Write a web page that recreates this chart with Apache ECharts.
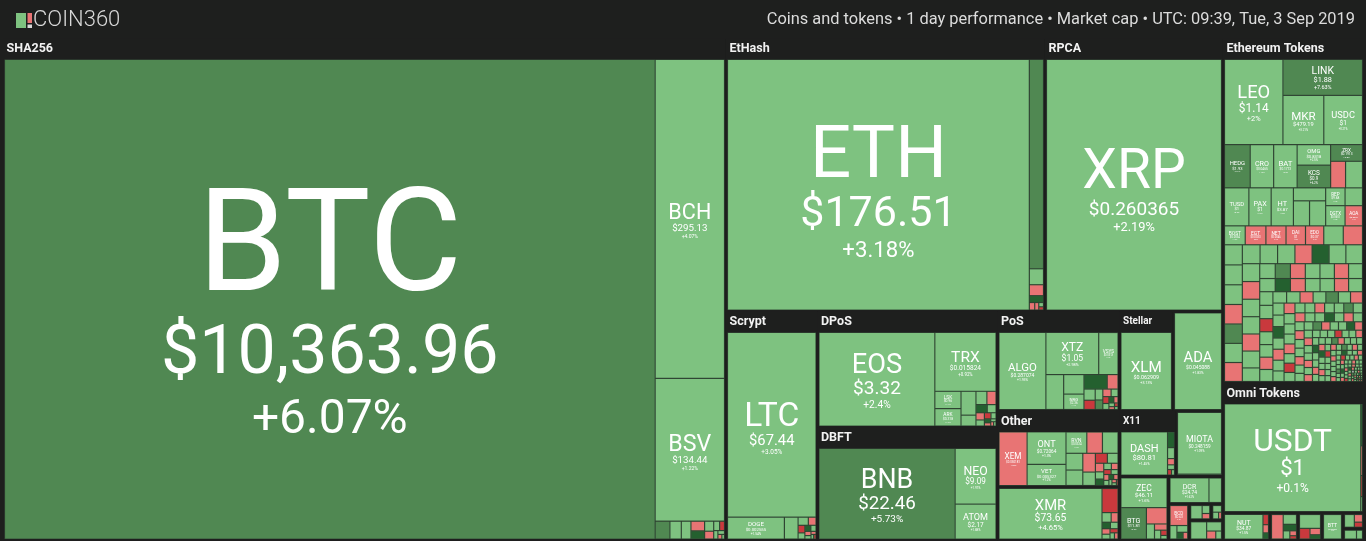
<!DOCTYPE html>
<html>
<head>
<meta charset="utf-8">
<title>COIN360 – 1 day performance</title>
<script src="https://cdn.jsdelivr.net/npm/echarts@6.0.0/dist/echarts.min.js"></script>
<style>
  html, body { margin: 0; padding: 0; background: #1e1f1e; overflow: hidden; }
  #chart { width: 1366px; height: 541px; }
</style>
</head>
<body>
<div id="chart"></div>
<script>
// ======================= DATA =======================
const headerTitle = 'COIN360';
const headerInfo = 'Coins and tokens \u2022 1 day performance \u2022 Market cap \u2022 UTC: 09:39, Tue, 3 Sep 2019';

// top-level groups and their relative (displayed) size
const groupNames = ['SHA256', 'EtHash', 'RPCA', 'Ethereum Tokens', 'Omni Tokens', 'Scrypt', 'DPoS', 'DBFT',
  'PoS', 'Other', 'CryptoNight', 'Stellar', 'Ouroboros', 'X11', 'Tangle', 'Equihash', 'Blake256', 'X13',
  'Lbry', 'Groestl', 'Qubit', 'NEP5 Tokens', 'Waves Tokens', 'TRC20 Tokens', 'TRC10 Tokens', 'Tron Misc', 'Misc Tokens'];
const groupWeights = [362946, 87087, 48594, 48575, 18330, 20954, 20880, 20340,
  12139, 9272, 6527, 5323, 4975, 3701, 3079, 3136, 1499, 756,
  360, 192, 681, 1292.5, 770, 660, 577.5, 330, 247.5];

// how the groups are arranged (nested lists = unlabelled blocks)
const groupArrangement = [
  'SHA256',
  [
    [
      ['EtHash', 'RPCA'],
      ['Scrypt', [
        [['DPoS', 'DBFT'], ['PoS', 'Other', 'CryptoNight']],
        [['Stellar', 'Ouroboros'], ['X11', 'Tangle'], ['Equihash', ['Blake256', 'X13', 'Lbry', 'Groestl', 'Qubit']]]
      ]]
    ],
    ['Ethereum Tokens', 'Omni Tokens', ['NEP5 Tokens', 'Waves Tokens', 'TRC20 Tokens', 'TRC10 Tokens', 'Tron Misc', 'Misc Tokens']]
  ]
];

// tone codes for the tiny unlabelled cells: g/G/D greens, r/R/K reds, x grey
const toneChange = { g: 2, G: 7, D: 12, r: -2, R: -7, K: -12, x: 0 };

// ---- SHA256
const sha256Names = ['BTC', 'BCH', 'BSV'];
const sha256Weights = [308600, 21870, 9800];
const sha256Prices = [10363.96, 295.13, 134.44];
const sha256Changes = [6.07, 4.07, 1.22];
const sha256TinyWeights = [260, 200, 170, 130, 110, 90, 70, 55, 45, 35, 25, 18, 12];
const sha256TinyTones = 'GggrDgrgRggrg';
// ---- EtHash
const etHashNames = ['ETH', 'ETC'];
const etHashWeights = [74949, 2940];
const etHashPrices = [176.51, 7.08];
const etHashChanges = [3.18, 7.12];
const etHashTinyWeights = [224, 154, 96, 40, 30, 20, 15];
const etHashTinyTones = 'grDrrgR';
// ---- RPCA
const rpcaNames = ['XRP'];
const rpcaWeights = [44073];
const rpcaPrices = [0.260365];
const rpcaChanges = [2.19];
// ---- Ethereum Tokens
const ethTokNames = ['LEO', 'LINK', 'MKR', 'USDC', 'HEDG', 'CRO', 'BAT', 'TUSD', 'PAX', 'HT', 'KCS', 'OMG', 'ZRX', 'HOT',
  'ENJ', 'SNT', 'MANA', 'LAMB', 'DGTX', 'BOST', 'EGT', 'NET', 'DAI', 'AOA', 'REP', 'EDO', 'NEXO'];
const ethTokWeights = [4320, 2475, 1748, 1656, 966, 882, 882, 805, 735, 735, 660, 600, 462, 391,
  364, 350, 350, 345, 340, 340, 340, 330, 320, 306, 300, 300, 270];
const ethTokPrices = [1.14, 1.88, 479.19, 1, 1.93, 0.0465, 0.1773, 1, 1, 3.87, 0.9, 0.8318, 0.1913, 0.000434,
  0.0782, 0.0178, 0.0388, 0.0532, 0.0651, 0.0034, 0.0033, 0.0046, 1, 0.0067, 9.68, 0.37, 0.085];
const ethTokChanges = [2, 7.63, 3.21, 0.21, 6.41, 1.2, 2.3, 0.3, 0.19, 1.78, 6.2, 2.5, 6.8, 1.5,
  2.1, 1.9, 2.4, -3.5, 1.5, 1.3, -2.8, -3.1, -1.9, -4.1, 1.2, -2.4, 1.1];
const ethTokTinyWeights = [
  320, 316, 312, 308, 305, 302, 300, 297, 294, 291, 288, 285, 282, 279, 276, 273, 270, 267, 264, 261, 258, 255,
  205, 200, 196, 192, 189, 186, 183, 180, 177, 174, 171, 168, 165, 162, 159, 156, 153, 150, 147, 144, 141, 138, 135, 132, 129, 126, 123, 120, 118, 116,
  112, 110, 108, 106, 104, 102, 100, 98, 96, 94, 92, 90, 88, 86, 85, 84, 83, 82, 81, 80, 79, 78, 77, 76, 75, 74, 73, 72, 71, 70, 69, 68, 67, 66, 65, 64, 63, 62, 61, 60,
  58, 57, 56, 55, 54, 53, 52, 51, 50, 49, 48, 47, 46, 45, 44, 43, 42, 41, 40, 40, 39, 39, 38, 38, 37, 37, 36, 36, 35, 35, 34, 34, 33, 33, 32, 32, 31, 31, 30, 30,
  29, 29, 28, 28, 27, 27, 26, 26, 25, 25, 24, 24, 23, 23, 22, 22, 21, 21, 20, 20,
  19, 19, 18, 18, 17, 17, 16, 16, 15, 15, 15, 14, 14, 14, 13, 13, 13, 12, 12, 12, 11, 11, 11, 10, 10, 10, 10, 9, 9, 9,
  9, 8, 8, 8, 8, 7, 7, 7, 7, 6, 6, 6, 6, 6, 5, 5, 5, 5, 5, 4, 4, 4, 4, 4, 4, 3, 3, 3, 3, 3];
const ethTokTinyTones =
  'grgggrGgrg' + 'ggrDgggrgg' + 'rgggGrggrg' + 'gDrggrgggR' + 'ggrgggrgGg' + 'rggDgrggrg' + 'ggrgRgggrg' +
  'gGgrggDgrg' + 'grggrgggGr' + 'ggDrgrggrg' + 'rgggRggrgD' + 'ggrgggGrgg' + 'grDggrggRg' + 'gggrgGgrgg' +
  'rgggrgDggr' + 'gRggrgggGg' + 'grgDgrggrg' + 'ggrggRgrgg' + 'Dgrggrgggx' + 'grgGgrgrgg' + 'gDggrgKggr' + 'grg';
// how the first rows of Ethereum Tokens are grouped ('…' = everything else)
const ethTokArrangement = [
  ['LEO', ['LINK', ['MKR', 'USDC']]],
  [['HEDG', 'CRO', 'BAT', ['OMG', 'KCS'], ['ZRX', ['LAMB', 'HOT']]],
   [['TUSD', 'PAX', 'HT', ['ENJ', ['SNT', 'MANA']], ['REP', 'NEXO'], ['DGTX', 'AOA']], '…']]
];
// ---- Omni Tokens
const omniNames = ['USDT'];
const omniWeights = [13952];
const omniPrices = [1];
const omniChanges = [0.1];
const omniTinyWeights = [70, 50, 35, 25];
const omniTinyTones = 'DrRg';
// ---- Scrypt
const scryptNames = ['LTC', 'DOGE', 'MONA'];
const scryptWeights = [15752, 1196, 288];
const scryptPrices = [67.44, 0.002555, 1.27];
const scryptChanges = [3.05, 1.54, 3.1];
const scryptTinyWeights = [80, 60, 50, 40, 35, 30, 25, 20, 15, 12, 10];
const scryptTinyTones = 'grRgDgrgrgR';
// ---- DPoS
const dposNames = ['EOS', 'TRX', 'LSK', 'ARK'];
const dposWeights = [10672, 3540, 448, 448];
const dposPrices = [3.32, 0.015824, 0.96, 0.318];
const dposChanges = [2.4, 0.92, 1.1, 1.4];
const dposTinyWeights = [352, 160, 144, 120, 90, 70, 60, 50, 40, 30, 25, 20, 15, 12, 10];
const dposTinyTones = 'gggrDgrgRgDrgrg';
// ---- DBFT
const dbftNames = ['BNB', 'NEO', 'ATOM'];
const dbftWeights = [12015, 2214, 1394];
const dbftPrices = [22.46, 9.09, 2.17];
const dbftChanges = [5.73, 1.97, 1.88];
// ---- PoS
const posNames = ['ALGO', 'XTZ', 'VSYS', 'QTUM', 'WAVES', 'NRG'];
const posWeights = [3465, 2132, 779, 595, 380, 300];
const posPrices = [0.287074, 1.05, 0.0313, 2.71, 1.12, 2.36];
const posChanges = [1.95, 2.98, 1.2, 1.6, 1.3, 1.1];
const posTinyWeights = [323, 150, 120, 100, 80, 70, 60, 50, 40, 35, 30, 25, 20, 15, 12, 10];
const posTinyTones = 'DrgRgGrgRgDrgrRg';
// ---- Other
const otherNames = ['XEM', 'ONT', 'VET', 'RVN'];
const otherWeights = [1248, 1044, 684, 368];
const otherPrices = [0.050181, 0.72064, 0.005327, 0.0334];
const otherChanges = [-1.35, 1.3, 1.2, 1.9];
const otherTinyWeights = [276, 275, 234, 216, 196, 140, 99, 88, 60, 50, 45, 40, 35, 30, 28, 25, 22, 20, 18, 15, 12, 10, 8];
const otherTinyTones = 'rgggrgRgrgDgrRgrgDrgrgR';
// ---- CryptoNight
const cryptoNightNames = ['XMR', 'BCN'];
const cryptoNightWeights = [4747, 352];
const cryptoNightPrices = [73.65, 0.000437];
const cryptoNightChanges = [4.65, -7.5];
const cryptoNightTinyWeights = [80, 60, 50, 45, 40, 35, 30, 25, 20];
const cryptoNightTinyTones = 'grDgrgRgr';
// ---- Stellar / Ouroboros / X11 / Tangle / Equihash
const stellarNames = ['XLM'];      const stellarWeights = [3952];  const stellarPrices = [0.062909]; const stellarChanges = [3.13];
const ouroborosNames = ['ADA'];    const ouroborosWeights = [4230]; const ouroborosPrices = [0.045088]; const ouroborosChanges = [1.83];
const x11Names = ['DASH'];         const x11Weights = [1840];      const x11Prices = [80.81];       const x11Changes = [1.45];
const x11TinyWeights = [100, 70, 40, 30, 20, 15];                  const x11TinyTones = 'DgrgRg';
const tangleNames = ['MIOTA'];     const tangleWeights = [2600];   const tanglePrices = [0.248159]; const tangleChanges = [1.09];
const tangleTinyWeights = [40];                                    const tangleTinyTones = 'r';
const equihashNames = ['ZEC', 'BTG']; const equihashWeights = [1232, 720]; const equihashPrices = [46.11, 11.81]; const equihashChanges = [1.6, 6.3];
const equihashTinyWeights = [304, 110, 70, 50, 30, 20];            const equihashTinyTones = 'rgrgRg';
// ---- small groups
const blake256Names = ['DCR'];     const blake256Weights = [1026]; const blake256Prices = [24.74]; const blake256Changes = [1.62];
const blake256TinyWeights = [330];                                 const blake256TinyTones = 'g';
const x13Names = ['BCD'];          const x13Weights = [342];       const x13Prices = [0.63];       const x13Changes = [-3.2];
const x13TinyWeights = [90, 70, 40, 30];                           const x13TinyTones = 'ggDr';
const lbryTinyWeights = [150, 60, 40];                             const lbryTinyTones = 'ggr';
const groestlTinyWeights = [60, 40, 20];                           const groestlTinyTones = 'ggr';
const qubitTinyWeights = [300, 150, 80, 50];                       const qubitTinyTones = 'ggrg';
const nep5Names = ['NUT'];         const nep5Weights = [836];      const nep5Prices = [34.87];     const nep5Changes = [1.5];
const nep5TinyWeights = [50, 40, 30];                              const nep5TinyTones = 'RrD';
const wavesTokTinyWeights = [264, 120, 80, 50, 30, 20];            const wavesTokTinyTones = 'rgDgrR';
const trc20TinyWeights = [260, 100, 60, 40];                       const trc20TinyTones = 'gRrD';
const trc10Names = ['BTT'];        const trc10Weights = [374];     const trc10Prices = [0.000596]; const trc10Changes = [1.9];
const tronMiscTinyWeights = [60, 30, 20];                          const tronMiscTinyTones = 'grR';
const miscTokTinyWeights = [40, 20];                               const miscTokTinyTones = 'gg';

// group -> its arrays: [names, weights, prices, changes, tinyWeights, tinyTones]
const groupLeaves = {
  'SHA256': [sha256Names, sha256Weights, sha256Prices, sha256Changes, sha256TinyWeights, sha256TinyTones],
  'EtHash': [etHashNames, etHashWeights, etHashPrices, etHashChanges, etHashTinyWeights, etHashTinyTones],
  'RPCA': [rpcaNames, rpcaWeights, rpcaPrices, rpcaChanges, [], ''],
  'Ethereum Tokens': [ethTokNames, ethTokWeights, ethTokPrices, ethTokChanges, ethTokTinyWeights, ethTokTinyTones],
  'Omni Tokens': [omniNames, omniWeights, omniPrices, omniChanges, omniTinyWeights, omniTinyTones],
  'Scrypt': [scryptNames, scryptWeights, scryptPrices, scryptChanges, scryptTinyWeights, scryptTinyTones],
  'DPoS': [dposNames, dposWeights, dposPrices, dposChanges, dposTinyWeights, dposTinyTones],
  'DBFT': [dbftNames, dbftWeights, dbftPrices, dbftChanges, [], ''],
  'PoS': [posNames, posWeights, posPrices, posChanges, posTinyWeights, posTinyTones],
  'Other': [otherNames, otherWeights, otherPrices, otherChanges, otherTinyWeights, otherTinyTones],
  'CryptoNight': [cryptoNightNames, cryptoNightWeights, cryptoNightPrices, cryptoNightChanges, cryptoNightTinyWeights, cryptoNightTinyTones],
  'Stellar': [stellarNames, stellarWeights, stellarPrices, stellarChanges, [], ''],
  'Ouroboros': [ouroborosNames, ouroborosWeights, ouroborosPrices, ouroborosChanges, [], ''],
  'X11': [x11Names, x11Weights, x11Prices, x11Changes, x11TinyWeights, x11TinyTones],
  'Tangle': [tangleNames, tangleWeights, tanglePrices, tangleChanges, tangleTinyWeights, tangleTinyTones],
  'Equihash': [equihashNames, equihashWeights, equihashPrices, equihashChanges, equihashTinyWeights, equihashTinyTones],
  'Blake256': [blake256Names, blake256Weights, blake256Prices, blake256Changes, blake256TinyWeights, blake256TinyTones],
  'X13': [x13Names, x13Weights, x13Prices, x13Changes, x13TinyWeights, x13TinyTones],
  'Lbry': [[], [], [], [], lbryTinyWeights, lbryTinyTones],
  'Groestl': [[], [], [], [], groestlTinyWeights, groestlTinyTones],
  'Qubit': [[], [], [], [], qubitTinyWeights, qubitTinyTones],
  'NEP5 Tokens': [nep5Names, nep5Weights, nep5Prices, nep5Changes, nep5TinyWeights, nep5TinyTones],
  'Waves Tokens': [[], [], [], [], wavesTokTinyWeights, wavesTokTinyTones],
  'TRC20 Tokens': [[], [], [], [], trc20TinyWeights, trc20TinyTones],
  'TRC10 Tokens': [trc10Names, trc10Weights, trc10Prices, trc10Changes, [], ''],
  'Tron Misc': [[], [], [], [], tronMiscTinyWeights, tronMiscTinyTones],
  'Misc Tokens': [[], [], [], [], miscTokTinyWeights, miscTokTinyTones]
};
const groupInnerArrangement = { 'Ethereum Tokens': ethTokArrangement };

// ======================= STYLE =======================
const BG = '#1e1f1e';
const LINE = '#36513a';
const LEAF_BW = 0.6;
const HEADER_H = 21;
const FONT = 'Roboto, "Noto Sans", sans-serif';
const headerFont = { 'SHA256': 12.5, 'EtHash': 12.5, 'RPCA': 12.5, 'Ethereum Tokens': 12.5, 'Omni Tokens': 12.5,
  'Scrypt': 12.5, 'DPoS': 12.5, 'DBFT': 12.5, 'PoS': 12.5, 'Other': 12.5, 'Stellar': 10, 'X11': 10 };

function colorFor(ch) {
  if (ch >= 10) return '#24602f';
  if (ch >= 5) return '#508852';
  if (ch > 0) return '#7ec280';
  if (ch === 0) return '#a8a8a8';
  if (ch > -5) return '#e87474';
  if (ch > -10) return '#c9393d';
  return '#9a2222';
}
function fmtPrice(p) { return '$' + p.toLocaleString('en-US', { maximumFractionDigits: 6 }); }
function fmtChange(c) { return (c > 0 ? '+' : '') + parseFloat(c.toFixed(2)) + '%'; }

// ======================= BUILD TREE =======================
const leafNodes = [];
const leafInfo = [];
function sum(a) { return a.reduce((s, v) => s + v, 0); }
function wrapper(children) {
  return { name: '', children,
    itemStyle: { borderWidth: 0, gapWidth: 0, borderColor: 'rgba(0,0,0,0)' },
    upperLabel: { show: false }, label: { show: false } };
}

function buildGroup(name) {
  const [names, weights, prices, changes, tinyW, tinyT] = groupLeaves[name];
  const k = groupWeights[groupNames.indexOf(name)] / (sum(weights) + sum(tinyW));
  const named = {};
  const order = [];
  names.forEach((n, i) => {
    const node = { name: n, value: weights[i] * k, key: leafNodes.length,
      itemStyle: { color: colorFor(changes[i]), borderWidth: LEAF_BW, borderColor: LINE },
      label: { show: false } };
    leafNodes.push(node);
    leafInfo.push({ name: n, price: fmtPrice(prices[i]), change: fmtChange(changes[i]) });
    named[n] = node;
    order.push(node);
  });
  const tiny = tinyW.map((w, i) => {
    const ch = toneChange[tinyT[i]] !== undefined ? toneChange[tinyT[i]] : 2;
    return { name: '', value: w * k,
      itemStyle: { color: colorFor(ch), borderWidth: LEAF_BW, borderColor: LINE }, label: { show: false } };
  });
  let children;
  const arr = groupInnerArrangement[name];
  if (arr) {
    const used = new Set();
    const place = (s) => {
      if (s === '…') return wrapper(order.filter(nd => !used.has(nd)).concat(tiny));
      if (typeof s === 'string') { used.add(named[s]); return named[s]; }
      return wrapper(s.map(place));
    };
    children = arr.map(place);
  } else {
    children = order.concat(tiny);
  }
  const fs = headerFont[name];
  return {
    name, children,
    itemStyle: { borderWidth: 1.5, borderColor: BG, gapWidth: 0 },
    upperLabel: fs ? { show: true, height: HEADER_H, fontSize: fs, fontWeight: 'bold', fontFamily: FONT,
      color: '#f2f2f2', lineHeight: HEADER_H - 0.5, padding: [0, 0, 0, 2], verticalAlign: 'middle' } : { show: false }
  };
}
function build(spec) {
  if (typeof spec === 'string') return buildGroup(spec);
  return wrapper(spec.map(build));
}
const treeData = groupArrangement.map(build);

// ======================= OPTION =======================
function makeOption() {
  return {
    backgroundColor: BG,
    animation: false,
    graphic: [
      { type: 'rect', shape: { x: 16, y: 13, width: 10, height: 15 }, style: { fill: '#7ec280' } },
      { type: 'rect', shape: { x: 27.5, y: 13, width: 4.5, height: 10 }, style: { fill: '#e87474' } },
      { type: 'rect', shape: { x: 27.5, y: 24.5, width: 4.5, height: 3.5 }, style: { fill: '#d9d9d9' } },
      { type: 'text', x: 33, y: 20.5, style: { text: headerTitle, fill: '#d9d9d9', font: '300 22px ' + FONT, verticalAlign: 'middle' } },
      { type: 'text', x: 1355, y: 19.5, style: { text: headerInfo, fill: '#dcdcdc', font: '400 16.4px ' + FONT, align: 'right', verticalAlign: 'middle' } }
    ],
    series: [{
      type: 'treemap',
      left: 3, top: 38.5, width: 1361, height: 502,
      sort: false,
      squareRatio: 1,
      visibleMin: 0,
      roam: false,
      nodeClick: false,
      breadcrumb: { show: false },
      itemStyle: { borderWidth: 0, gapWidth: 0, borderColor: BG },
      upperLabel: { show: false },
      label: { show: false },
      emphasis: { disabled: true },
      data: treeData
    }]
  };
}

const chart = echarts.init(document.getElementById('chart'), null, { renderer: 'canvas' });
chart.setOption(makeOption());

// ======================= LABEL FITTING (from the library's layout) =======================
const mctx = document.createElement('canvas').getContext('2d');
function em(text) { mctx.font = '400 100px Roboto'; return Math.max(mctx.measureText(text).width / 100, 0.3); }

function readSizes() {
  const sizes = {};
  try {
    const sm = chart.getModel().getSeriesByIndex(0);
    const data = sm.getData();
    data.tree.root.eachNode(function (node) {
      const item = data.getRawDataItem(node.dataIndex);
      const lay = node.getLayout();
      if (item && item.key != null && lay) sizes[item.key] = [lay.width, lay.height];
    });
  } catch (e) { /* ignore */ }
  return sizes;
}
const sizes = readSizes();

leafNodes.forEach((node, key) => {
  const info = leafInfo[key];
  let W, H;
  if (sizes[key]) { W = sizes[key][0]; H = sizes[key][1]; }
  else { const s = Math.sqrt(node.value); W = s; H = s; }
  const w = Math.max(W - 2 * LEAF_BW, 0), h = Math.max(H - 2 * LEAF_BW, 0);
  let n = Math.min(0.265 * Math.sqrt(w * h), 0.63 * w / em(info.name), 0.3 * h);
  let p = Math.min(0.52 * w / em(info.price), 0.7 * n);
  let c = Math.min(0.24 * w / em(info.change), 0.75 * p);
  const lhN = 0.89, lhP = 1.12, lhC = 1.12;
  let tot = lhN * n + lhP * p + lhC * c;
  if (tot > 0.9 * h) { const s = 0.9 * h / tot; n *= s; p *= s; c *= s; tot *= s; }
  if (n < 4 || w < 16) { node.label = { show: false }; return; }
  const padTop = Math.max(0, Math.min((h - tot) / 2 + 0.14 * n, h - tot));
  const sh = (f) => ({ textShadowColor: 'rgba(0,0,0,0.3)', textShadowBlur: 0,
    textShadowOffsetX: Math.max(0.5, f * 0.018), textShadowOffsetY: Math.max(0.5, f * 0.018) });
  const str = '{nm|' + info.name + '}\n{pr|' + info.price + '}\n{ch|' + info.change + '}';
  node.label = {
    show: true, position: 'inside', align: 'center', verticalAlign: 'middle',
    overflow: 'none', padding: [padTop, 0, 0, 0],
    formatter: function () { return str; },
    rich: {
      nm: Object.assign({ fontSize: n, lineHeight: lhN * n, color: '#fff', fontFamily: FONT, align: 'center' }, sh(n)),
      pr: Object.assign({ fontSize: p, lineHeight: lhP * p, color: '#fff', fontFamily: FONT, align: 'center' }, sh(p)),
      ch: Object.assign({ fontSize: c, lineHeight: lhC * c, color: '#fff', fontFamily: FONT, align: 'center' }, sh(c))
    }
  };
});
chart.setOption(makeOption(), { notMerge: true });
</script>
</body>
</html>
